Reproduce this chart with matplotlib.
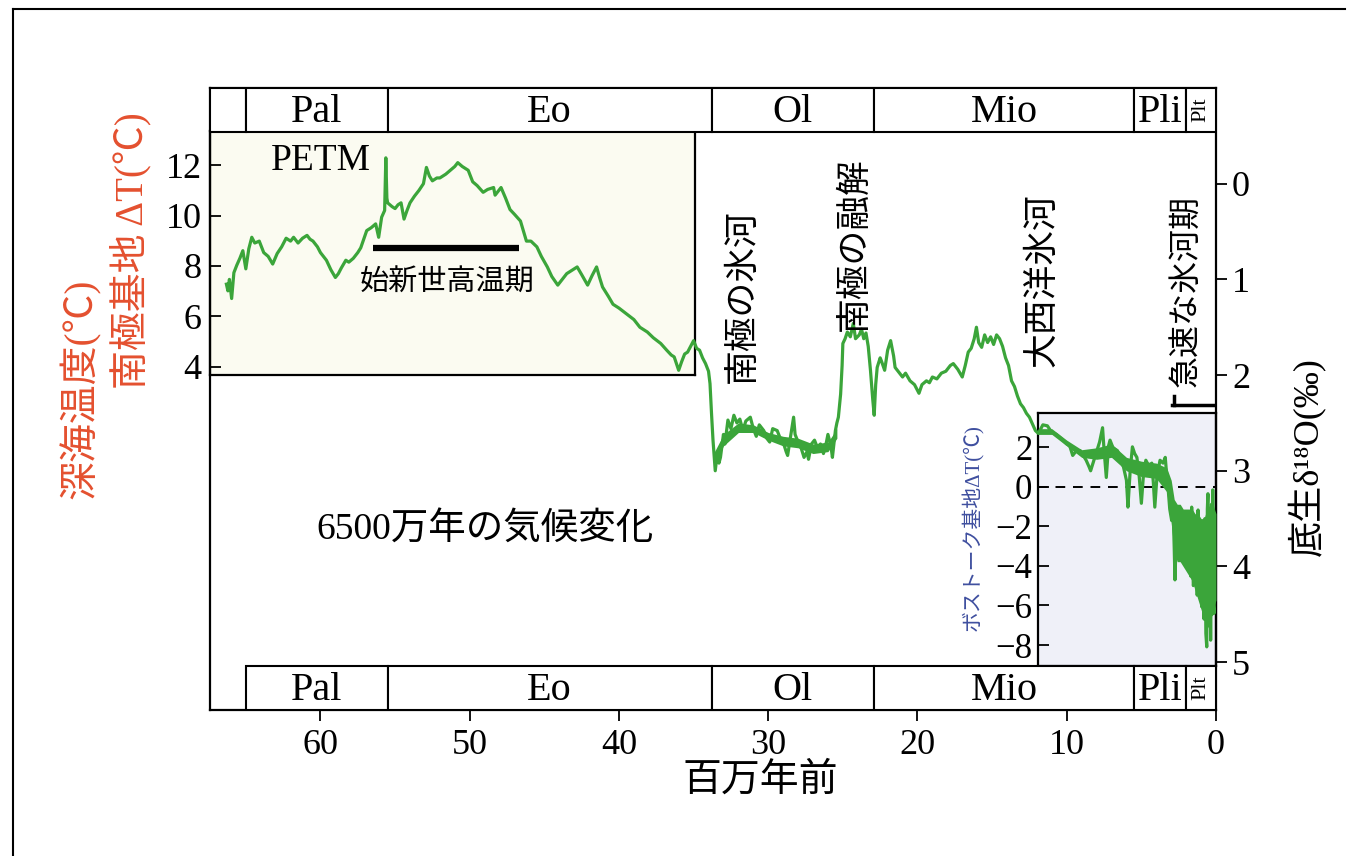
import matplotlib.pyplot as plt
from matplotlib.patches import Rectangle
from matplotlib.lines import Line2D

plt.rcParams['font.family'] = ['Liberation Serif', 'Noto Sans CJK JP', 'DejaVu Sans']

# benthic d18O curve (age in Myr, d18O in permil)
age = [66.3, 66.2, 66.1, 65.95, 65.8, 65.6, 65.4, 65.2, 65.0, 64.8, 64.6, 64.4, 64.1,
       63.8, 63.5, 63.2, 62.9, 62.6, 62.3, 62.0, 61.8, 61.5, 61.2, 60.9, 60.7, 60.5,
       60.2, 60.0, 59.8, 59.6, 59.3, 59.0, 58.8, 58.6, 58.3, 58.1, 57.8, 57.5, 57.3,
       57.1, 56.9, 56.6, 56.3, 56.1, 55.9, 55.7, 55.62, 55.55, 55.5, 55.2, 55.0, 54.8,
       54.6, 54.4, 54.2, 54.0, 53.7, 53.4, 53.1, 52.9, 52.7, 52.5, 52.2, 52.0, 51.6,
       51.3, 51.0, 50.8, 50.5, 50.1, 49.8, 49.5, 49.1, 48.8, 48.4, 48.3, 47.9, 47.6,
       47.3, 47.0, 46.6, 46.2, 45.9, 45.5, 45.2, 44.8, 44.5, 44.1, 43.8, 43.5, 43.1,
       42.8, 42.5, 42.1, 41.8, 41.5, 41.3, 41.1, 40.7, 40.4, 40.0, 39.5, 39.0, 38.6,
       38.1, 37.7, 37.2, 36.8, 36.5, 36.3, 36.0, 35.8, 35.6, 35.4, 35.2, 35.0, 34.8,
       34.6, 34.4, 34.2, 34.0, 33.9, 33.8, 33.7, 33.6, 33.55, 33.4, 33.3, 33.2, 33.0,
       32.9, 32.7, 32.5, 32.3, 32.1, 31.9, 31.7, 31.5, 31.2, 31.0, 30.8, 30.6, 30.3,
       30.1, 29.9, 29.7, 29.4, 29.2, 29.0, 28.8, 28.7, 28.5, 28.3, 28.2, 28.0, 27.8,
       27.6, 27.4, 27.3, 27.1, 26.9, 26.7, 26.5, 26.3, 26.1, 26.0, 25.8, 25.7, 25.5,
       25.4, 25.3, 25.15, 25.05, 25.0, 24.85, 24.7, 24.5, 24.3, 24.15, 23.9, 23.75,
       23.6, 23.45, 23.3, 23.15, 23.0, 22.9, 22.8, 22.7, 22.5, 22.4, 22.2, 22.0, 21.8,
       21.6, 21.5, 21.3, 21.0, 20.8, 20.5, 20.2, 19.9, 19.7, 19.4, 19.2, 19.0, 18.7,
       18.4, 18.1, 17.8, 17.6, 17.3, 17.0, 16.8, 16.6, 16.4, 16.2, 16.05, 15.9, 15.7,
       15.5, 15.3, 15.1, 14.9, 14.7, 14.5, 14.3, 14.1, 13.9, 13.7, 13.5, 13.3, 13.1,
       12.9, 12.7, 12.5, 12.3, 12.1, 11.9, 11.6, 11.3, 11.0, 10.7, 10.4, 10.0, 9.8,
       9.6, 9.4, 9.1, 8.9, 8.7, 8.5, 8.4, 8.2, 8.0, 7.8, 7.6, 7.5, 7.35, 7.2, 7.1,
       6.9, 6.6, 6.4, 6.2, 6.0, 5.9, 5.75, 5.6, 5.45, 5.3, 5.15, 5.0, 4.85, 4.7, 4.5,
       4.3, 4.2, 4.1, 3.95, 3.75, 3.55, 3.4, 3.3, 3.2, 3.1, 2.97, 2.88, 2.8, 2.75,
       2.65, 2.54, 2.45, 2.38, 2.3, 2.2, 2.08, 1.98, 1.87, 1.78, 1.7, 1.63, 1.52,
       1.41, 1.32, 1.26, 1.2, 1.1, 1.02, 0.96, 0.9, 0.87, 0.8, 0.74, 0.68, 0.62,
       0.58, 0.54, 0.48, 0.42, 0.36, 0.3, 0.26, 0.22, 0.17, 0.13, 0.1, 0.07, 0.04, 0.01]
d18o = [1.05, 1.12, 1.00, 1.20, 0.93, 0.85, 0.78, 0.70, 0.89, 0.68, 0.56, 0.62, 0.60,
        0.72, 0.76, 0.84, 0.73, 0.66, 0.57, 0.60, 0.56, 0.62, 0.57, 0.54, 0.58, 0.60,
        0.66, 0.72, 0.76, 0.80, 0.90, 0.98, 0.94, 0.88, 0.80, 0.82, 0.78, 0.72, 0.67,
        0.58, 0.49, 0.46, 0.42, 0.56, 0.35, 0.28, -0.27, 0.15, 0.20, 0.24, 0.26, 0.22,
        0.20, 0.37, 0.28, 0.20, 0.13, 0.07, 0.00, -0.17, -0.08, -0.03, -0.06, -0.06, -0.10,
        -0.14, -0.18, -0.22, -0.18, -0.14, -0.02, 0.02, 0.09, 0.06, 0.04, 0.12, 0.04, 0.15,
        0.27, 0.32, 0.39, 0.60, 0.60, 0.66, 0.76, 0.87, 0.97, 1.06, 1.00, 0.94, 0.90,
        0.87, 0.95, 1.06, 0.96, 0.87, 0.98, 1.08, 1.18, 1.26, 1.30, 1.36, 1.42, 1.50,
        1.55, 1.61, 1.67, 1.74, 1.79, 1.81, 1.95, 1.86, 1.78, 1.76, 1.70, 1.64, 1.72,
        1.74, 1.82, 1.88, 1.96, 2.09, 2.40, 2.68, 2.90, 3.00, 2.80, 2.92, 2.86, 2.62,
        2.72, 2.47, 2.56, 2.42, 2.50, 2.46, 2.58, 2.48, 2.44, 2.56, 2.64, 2.52, 2.58,
        2.66, 2.70, 2.56, 2.58, 2.66, 2.70, 2.80, 2.84, 2.64, 2.44, 2.62, 2.70, 2.76,
        2.86, 2.80, 2.88, 2.72, 2.68, 2.76, 2.72, 2.82, 2.70, 2.62, 2.74, 2.86, 2.58,
        2.50, 2.44, 2.20, 1.90, 1.67, 1.62, 1.55, 1.60, 1.46, 1.62, 1.58, 1.52,
        1.62, 1.56, 1.70, 1.95, 2.25, 2.42, 2.10, 1.92, 1.82, 1.86, 1.95, 1.74, 1.64,
        1.80, 1.92, 1.96, 2.02, 1.98, 2.06, 2.10, 2.19, 2.10, 2.06, 2.08, 2.02, 2.04,
        1.98, 1.96, 1.90, 1.88, 1.94, 2.02, 1.90, 1.76, 1.72, 1.62, 1.50, 1.66, 1.71,
        1.58, 1.66, 1.60, 1.68, 1.58, 1.62, 1.70, 1.82, 1.90, 2.06, 2.12, 2.22, 2.30,
        2.34, 2.40, 2.44, 2.51, 2.58, 2.61, 2.52, 2.53, 2.60, 2.62, 2.66, 2.72, 2.74,
        2.84, 2.80, 2.79, 2.84, 2.89, 2.96, 3.00, 2.90, 2.80, 2.70, 2.55, 2.78, 3.07, 2.74, 2.68,
        2.76, 2.79, 2.88, 2.96, 3.10, 3.38, 3.00, 2.75, 2.82, 2.86, 3.05, 3.34, 3.02, 2.89, 2.95,
        2.92, 3.12, 3.38, 3.05, 2.89, 2.92, 2.86, 3.05, 3.20, 3.40, 3.52, 3.35, 3.80, 4.14,
        3.62, 3.55, 3.92, 3.48, 3.86, 3.50, 3.44, 3.95, 4.00, 3.52, 4.10, 3.38, 4.20,
        4.14, 3.50, 4.30, 3.41, 4.25, 3.60, 4.42, 3.70, 3.55, 4.55, 3.50, 4.70, 4.84,
        3.40, 3.24, 4.60, 3.45, 4.77, 3.35, 4.50, 3.20, 4.40, 4.49, 3.50, 3.62, 4.30, 3.80]

# thick noisy stretches of the record: upper and lower edge
olig_age = [33.6, 33.0, 32.0, 31.0, 30.0, 29.0, 28.0, 27.0, 26.0, 25.4]
olig_top = [2.80, 2.62, 2.50, 2.52, 2.60, 2.64, 2.66, 2.72, 2.70, 2.56]
olig_bot = [2.92, 2.74, 2.60, 2.60, 2.68, 2.74, 2.76, 2.82, 2.80, 2.66]

late_age = [11.9, 11.0, 10.0, 9.0, 8.0, 7.0, 6.0, 5.0, 4.0, 3.3, 3.0, 2.8, 2.6, 2.4,
            2.2, 2.0, 1.8, 1.6, 1.4, 1.2, 1.0, 0.8, 0.6, 0.4, 0.2, 0.0]
late_top = [2.56, 2.56, 2.68, 2.78, 2.76, 2.72, 2.86, 2.90, 2.92, 2.97, 3.10, 3.30, 3.35, 3.35,
            3.40, 3.40, 3.40, 3.40, 3.45, 3.45, 3.50, 3.50, 3.40, 3.35, 3.35, 3.45]
late_bot = [2.62, 2.62, 2.74, 2.86, 2.88, 2.86, 3.00, 3.06, 3.08, 3.22, 3.55, 3.85, 3.95, 3.95,
            4.00, 4.05, 4.10, 4.15, 4.25, 4.35, 4.45, 4.55, 4.65, 4.60, 4.45, 4.35]

era_names = ['', 'Pal', 'Eo', 'Ol', 'Mio', 'Pli', 'Plt']
era_start = [67.4, 65.0, 55.5, 33.8, 22.9, 5.5, 2.0]
era_end = [65.0, 55.5, 33.8, 22.9, 5.5, 2.0, 0.0]

x_ticks = [60, 50, 40, 30, 20, 10, 0]
d18o_ticks = [0, 1, 2, 3, 4, 5]
deep_t_ticks = [4, 6, 8, 10, 12]
vostok_ticks = [2, 0, -2, -4, -6, -8]

GREEN = '#3ba53a'
RED = '#e4502f'
BLUE = '#3f4f9f'

W, H = 1356, 856
fig = plt.figure(figsize=(W / 100, H / 100), dpi=100)


def px_box(x0, y0, x1, y1):
    return [x0 / W, 1 - y1 / H, (x1 - x0) / W, (y1 - y0) / H]


ax = fig.add_axes(px_box(210, 88, 1216, 710), zorder=3)
ax.patch.set_visible(False)
ax_t = fig.add_axes(px_box(210, 131, 695, 375), zorder=1)
ax_v = fig.add_axes(px_box(1038, 413, 1216, 666), zorder=1)

# main axes: d18O on the right
ax.set_xlim(67.4, 0)
ax.set_ylim(5.5, -1.0)
ax.set_xticks(x_ticks)
ax.set_yticks(d18o_ticks)
ax.yaxis.tick_right()
ax.tick_params(direction='out', length=8, width=1.3, labelsize=26)
ax.tick_params(axis='x', pad=6)
for s in ax.spines.values():
    s.set_linewidth(1.6)
ax.set_xlabel('百万年前', fontsize=28)
ax.xaxis.set_label_coords(0.547, -0.085)
ax.set_ylabel('底生δ¹⁸O(‰)', fontsize=26)
ax.yaxis.set_label_position('right')
ax.yaxis.set_label_coords(1.072, 0.407)

# epoch bands top and bottom
for name, s, e in zip(era_names, era_start, era_end):
    for y0, y1, draw_empty in [(-1.0, -0.543, True), (5.04, 5.5, False)]:
        if name == '' and not draw_empty:
            continue
        ax.add_patch(Rectangle((e, y0), s - e, y1 - y0, fc='white', ec='black', lw=1.5, zorder=4))
        if name == 'Plt':
            ax.text((s + e) / 2, (y0 + y1) / 2, name, fontsize=16, rotation=90,
                    ha='center', va='center', zorder=6)
        elif name:
            ax.text((s + e) / 2, (y0 + y1) / 2 + 0.03, name, fontsize=29,
                    ha='center', va='center', zorder=6)

# the curve
ax.fill_between(olig_age, olig_top, olig_bot, color=GREEN, lw=0, zorder=5)
ax.fill_between(late_age, late_top, late_bot, color=GREEN, lw=0, zorder=5)
ax.plot(age, d18o, color=GREEN, lw=2.3, zorder=5)

# annotations
ax.text(60.0, -0.24, 'PETM', fontsize=27, ha='center', va='center', zorder=6)
ax.plot([56.5, 46.7], [0.67, 0.67], color='black', lw=4.5, solid_capstyle='butt', zorder=6)
ax.text(51.5, 1.04, '始新世高温期', fontsize=21, ha='center', va='center', zorder=6)
ax.text(49.0, 3.62, '6500万年の気候変化', fontsize=27, ha='center', va='center', zorder=6)
ax.text(31.7, 1.17, '南極の氷河', fontsize=25, rotation=90, ha='center', va='center', zorder=6)
ax.text(24.2, 0.63, '南極の融解', fontsize=25, rotation=90, ha='center', va='center', zorder=6)
ax.text(11.6, 1.01, '大西洋氷河', fontsize=25, rotation=90, ha='center', va='center', zorder=6)
ax.text(1.9, 1.12, '急速な氷河期', fontsize=23, rotation=90, ha='center', va='center', zorder=6)
ax.plot([2.95, 0], [2.31, 2.31], color='black', lw=2.5, zorder=6)
ax.plot([2.8, 2.8], [2.22, 2.31], color='black', lw=2.5, zorder=6)

# deep ocean / Antarctic temperature inset
ax_t.set_facecolor('#fbfbf1')
ax_t.set_ylim(3.68, 13.35)
ax_t.set_xticks([])
ax_t.set_yticks(deep_t_ticks)
ax_t.tick_params(direction='in', length=8, width=1.3, labelsize=26, pad=6)
for s in ax_t.spines.values():
    s.set_linewidth(1.6)
ax_t.set_ylabel('南極基地 ΔT(℃)', color=RED, fontsize=28)
ax_t.yaxis.set_label_coords(-0.12, 0.508)
ax_t.text(-0.268, -0.057, '深海温度(℃)', color=RED, fontsize=28, rotation=90,
          ha='center', va='center', transform=ax_t.transAxes)

# Vostok inset
ax_v.set_facecolor('#eff0f8')
ax_v.set_ylim(-9.06, 3.72)
ax_v.set_xticks([])
ax_v.set_yticks(vostok_ticks)
ax_v.tick_params(direction='in', length=8, width=1.3, labelsize=25, pad=4)
for s in ax_v.spines.values():
    s.set_linewidth(1.6)
ax_v.axhline(0, color='black', ls=(0, (5, 4)), lw=1.4)
ax_v.set_ylabel('ボストーク基地ΔT(℃)', color=BLUE, fontsize=15)
ax_v.yaxis.set_label_coords(-0.305, 0.549)

# outer frame of the figure
fig.add_artist(Line2D([13 / W, 13 / W], [0, 1 - 9 / H], color='black', lw=1.5))
fig.add_artist(Line2D([13 / W, 1345 / W], [1 - 9 / H, 1 - 9 / H], color='black', lw=1.5))

fig.savefig('out.png', dpi=100, facecolor='white')
